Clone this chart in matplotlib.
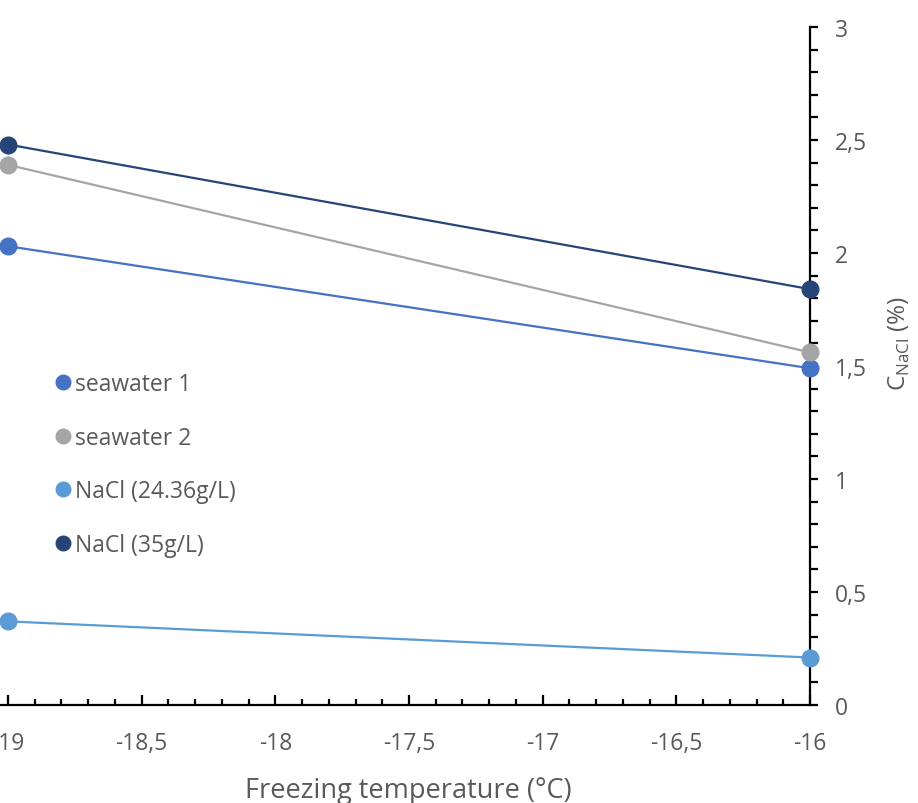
import numpy as np
import matplotlib.pyplot as plt
from matplotlib.lines import Line2D
from matplotlib.ticker import MultipleLocator, FuncFormatter

plt.rcParams['font.family'] = ['Open Sans', 'DejaVu Sans']

# dati
temp = [-19, -16]
series = ["seawater 1", "seawater 2", "NaCl (24.36g/L)", "NaCl (35g/L)"]
seawater1 = [2.03, 1.49]
seawater2 = [2.39, 1.56]
nacl_24 = [0.37, 0.21]
nacl_35 = [2.48, 1.84]
colori = ['#4472C4', '#A5A5A5', '#5B9BD5', '#264478']

grigio = '#595959'

fig = plt.figure(figsize=(9.18, 8.04), dpi=100)
ax = fig.add_axes([0.0, 0.1219, 0.8824, 0.8433])

for y, c in zip([seawater1, seawater2, nacl_24, nacl_35], colori):
    ax.plot(temp, y, '-o', color=c, lw=1.6, ms=12, zorder=3, clip_on=False)

ax.set_xlim(-19.03, -16)
ax.set_ylim(0, 3)

ax.spines['top'].set_visible(False)
ax.spines['left'].set_visible(False)
ax.spines['right'].set_linewidth(1.6)
ax.spines['bottom'].set_linewidth(1.6)

virgola = FuncFormatter(lambda v, p: ('%g' % v).replace('.', ','))

ax.xaxis.set_major_locator(MultipleLocator(0.5))
ax.xaxis.set_minor_locator(MultipleLocator(0.1))
ax.xaxis.set_major_formatter(virgola)
ax.tick_params(axis='x', which='major', direction='in', length=7, width=1.6,
               pad=19, labelsize=16.5, labelcolor=grigio)
ax.tick_params(axis='x', which='minor', direction='in', length=4.5, width=1.6)

ax.yaxis.tick_right()
ax.yaxis.set_label_position('right')
ax.yaxis.set_major_locator(MultipleLocator(0.5))
ax.yaxis.set_minor_locator(MultipleLocator(0.1))
ax.yaxis.set_major_formatter(virgola)
ax.tick_params(axis='y', which='major', direction='out', length=6, width=1.6,
               pad=12, labelsize=16.5, labelcolor=grigio)
ax.tick_params(axis='y', which='minor', direction='out', length=6, width=1.6)

ax.set_xlabel("Freezing temperature (°C)", fontsize=19.5, color=grigio)
ax.xaxis.set_label_coords(0.504, -0.104)
ax.set_ylabel(r"C$_{\mathregular{NaCl}}$ (%)", fontsize=17.5, color=grigio)
ax.yaxis.set_label_coords(1.095, 0.535)

handles = [Line2D([], [], ls='none', marker='o', ms=10.5, color=c) for c in colori]
leg = ax.legend(handles, series, loc='upper left', bbox_to_anchor=(0.055, 0.505),
                frameon=False, fontsize=16.5, handlelength=0.8, handletextpad=0.15,
                labelspacing=1.3, borderaxespad=0)
for t in leg.get_texts():
    t.set_color(grigio)

plt.savefig('out.png', dpi=100)
